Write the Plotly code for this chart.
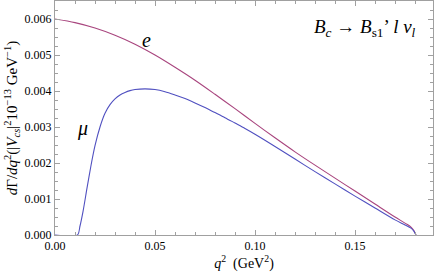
import plotly.graph_objects as go

q2_e = [0.0, 0.01, 0.02, 0.03, 0.04, 0.05, 0.06, 0.07, 0.08, 0.09, 0.10, 0.11, 0.12,
        0.13, 0.14, 0.15, 0.16, 0.17, 0.175, 0.178, 0.1795, 0.1805]
rate_e = [0.00600, 0.00590, 0.00575, 0.00555, 0.00530, 0.00500, 0.00466, 0.00430, 0.00391,
          0.00351, 0.00310, 0.00270, 0.00231, 0.00194, 0.00158, 0.00122, 0.00086, 0.00050,
          0.00033, 0.00022, 0.00012, 0.0]

q2_mu = [0.0, 0.0112, 0.0125, 0.014, 0.016, 0.018, 0.020, 0.0225, 0.025, 0.0275, 0.030, 0.0325,
         0.035, 0.0375, 0.040, 0.045, 0.050, 0.055, 0.060, 0.065, 0.070, 0.075, 0.080, 0.085,
         0.090, 0.095, 0.100, 0.110, 0.120, 0.130, 0.140, 0.150, 0.160, 0.170, 0.175, 0.178,
         0.1795, 0.1805]
rate_mu = [0.0, 0.0, 0.00025, 0.00065, 0.00130, 0.00193, 0.00248, 0.00300, 0.00338, 0.00362,
           0.00378, 0.00389, 0.00396, 0.00401, 0.00404, 0.00406, 0.00404, 0.00398, 0.00389,
           0.00379, 0.00367, 0.00354, 0.00340, 0.00326, 0.00311, 0.00296, 0.00280, 0.00246,
           0.00211, 0.00176, 0.00142, 0.00108, 0.00075, 0.00042, 0.00028, 0.00019, 0.00010, 0.0]

x_ticks = [0.0, 0.05, 0.10, 0.15]
x_tick_labels = ["0.00", "0.05", "0.10", "0.15"]
y_ticks = [0.0, 0.001, 0.002, 0.003, 0.004, 0.005, 0.006]
y_tick_labels = ["0.000", "0.001", "0.002", "0.003", "0.004", "0.005", "0.006"]

FONT = "Times New Roman, Liberation Serif, Times, serif"

fig = go.Figure()
fig.add_trace(go.Scatter(x=q2_e, y=rate_e, mode="lines", line=dict(color="#a8457e", width=1.1, shape="spline", smoothing=0.8), showlegend=False))
fig.add_trace(go.Scatter(x=q2_mu, y=rate_mu, mode="lines", line=dict(color="#5050c0", width=1.1, shape="spline", smoothing=0.8), showlegend=False))

axis_common = dict(showline=True, linecolor="#a0a0a0", linewidth=1, mirror="ticks", ticks="inside",
                   tickcolor="#a0a0a0", ticklen=5, showgrid=False, zeroline=False, automargin=False,
                   tickfont=dict(family=FONT, size=12, color="black"))

fig.update_xaxes(range=[0, 0.189], tickvals=x_ticks, ticktext=x_tick_labels,
                 minor=dict(dtick=0.01, ticks="inside", ticklen=3, tickcolor="#a0a0a0"),
                 title=dict(text="<i>q</i><sup>2</sup>  (GeV<sup>2</sup>)", font=dict(family=FONT, size=14, color="black"), standoff=2),
                 **axis_common)
fig.update_yaxes(range=[0, 0.0065], tickvals=y_ticks, ticktext=y_tick_labels,
                 minor=dict(dtick=0.00025, ticks="inside", ticklen=3, tickcolor="#a0a0a0"),
                 title=dict(text="<i>d</i>Γ/<i>dq</i><sup>2</sup>(|<i>V<sub>cs</sub></i>|<sup>2</sup>10<sup>−13</sup> GeV<sup>−1</sup>)",
                            font=dict(family=FONT, size=15, color="black"), standoff=3),
                 **axis_common)

fig.add_annotation(x=0.155, y=0.00575, xref="x", yref="y", showarrow=False,
                   text="<i>B<sub>c</sub></i> → <i>B</i><sub>s1</sub>’ <i>l ν<sub>l</sub></i>",
                   font=dict(family=FONT, size=19, color="black"))
fig.add_annotation(x=0.0455, y=0.00542, xref="x", yref="y", showarrow=False,
                   text="<i>e</i>", font=dict(family=FONT, size=20, color="black"))
fig.add_annotation(x=0.0135, y=0.00297, xref="x", yref="y", showarrow=False,
                   text="<i>μ</i>", font=dict(family=FONT, size=20, color="black"))

fig.update_layout(width=436, height=273, margin=dict(l=55, r=3, t=1, b=38),
                  font=dict(family=FONT),
                  paper_bgcolor="white", plot_bgcolor="white")
fig.write_html("out.html", config={"displayModeBar": False},
               post_script="document.body.style.margin='0';document.body.style.overflow='hidden';")
